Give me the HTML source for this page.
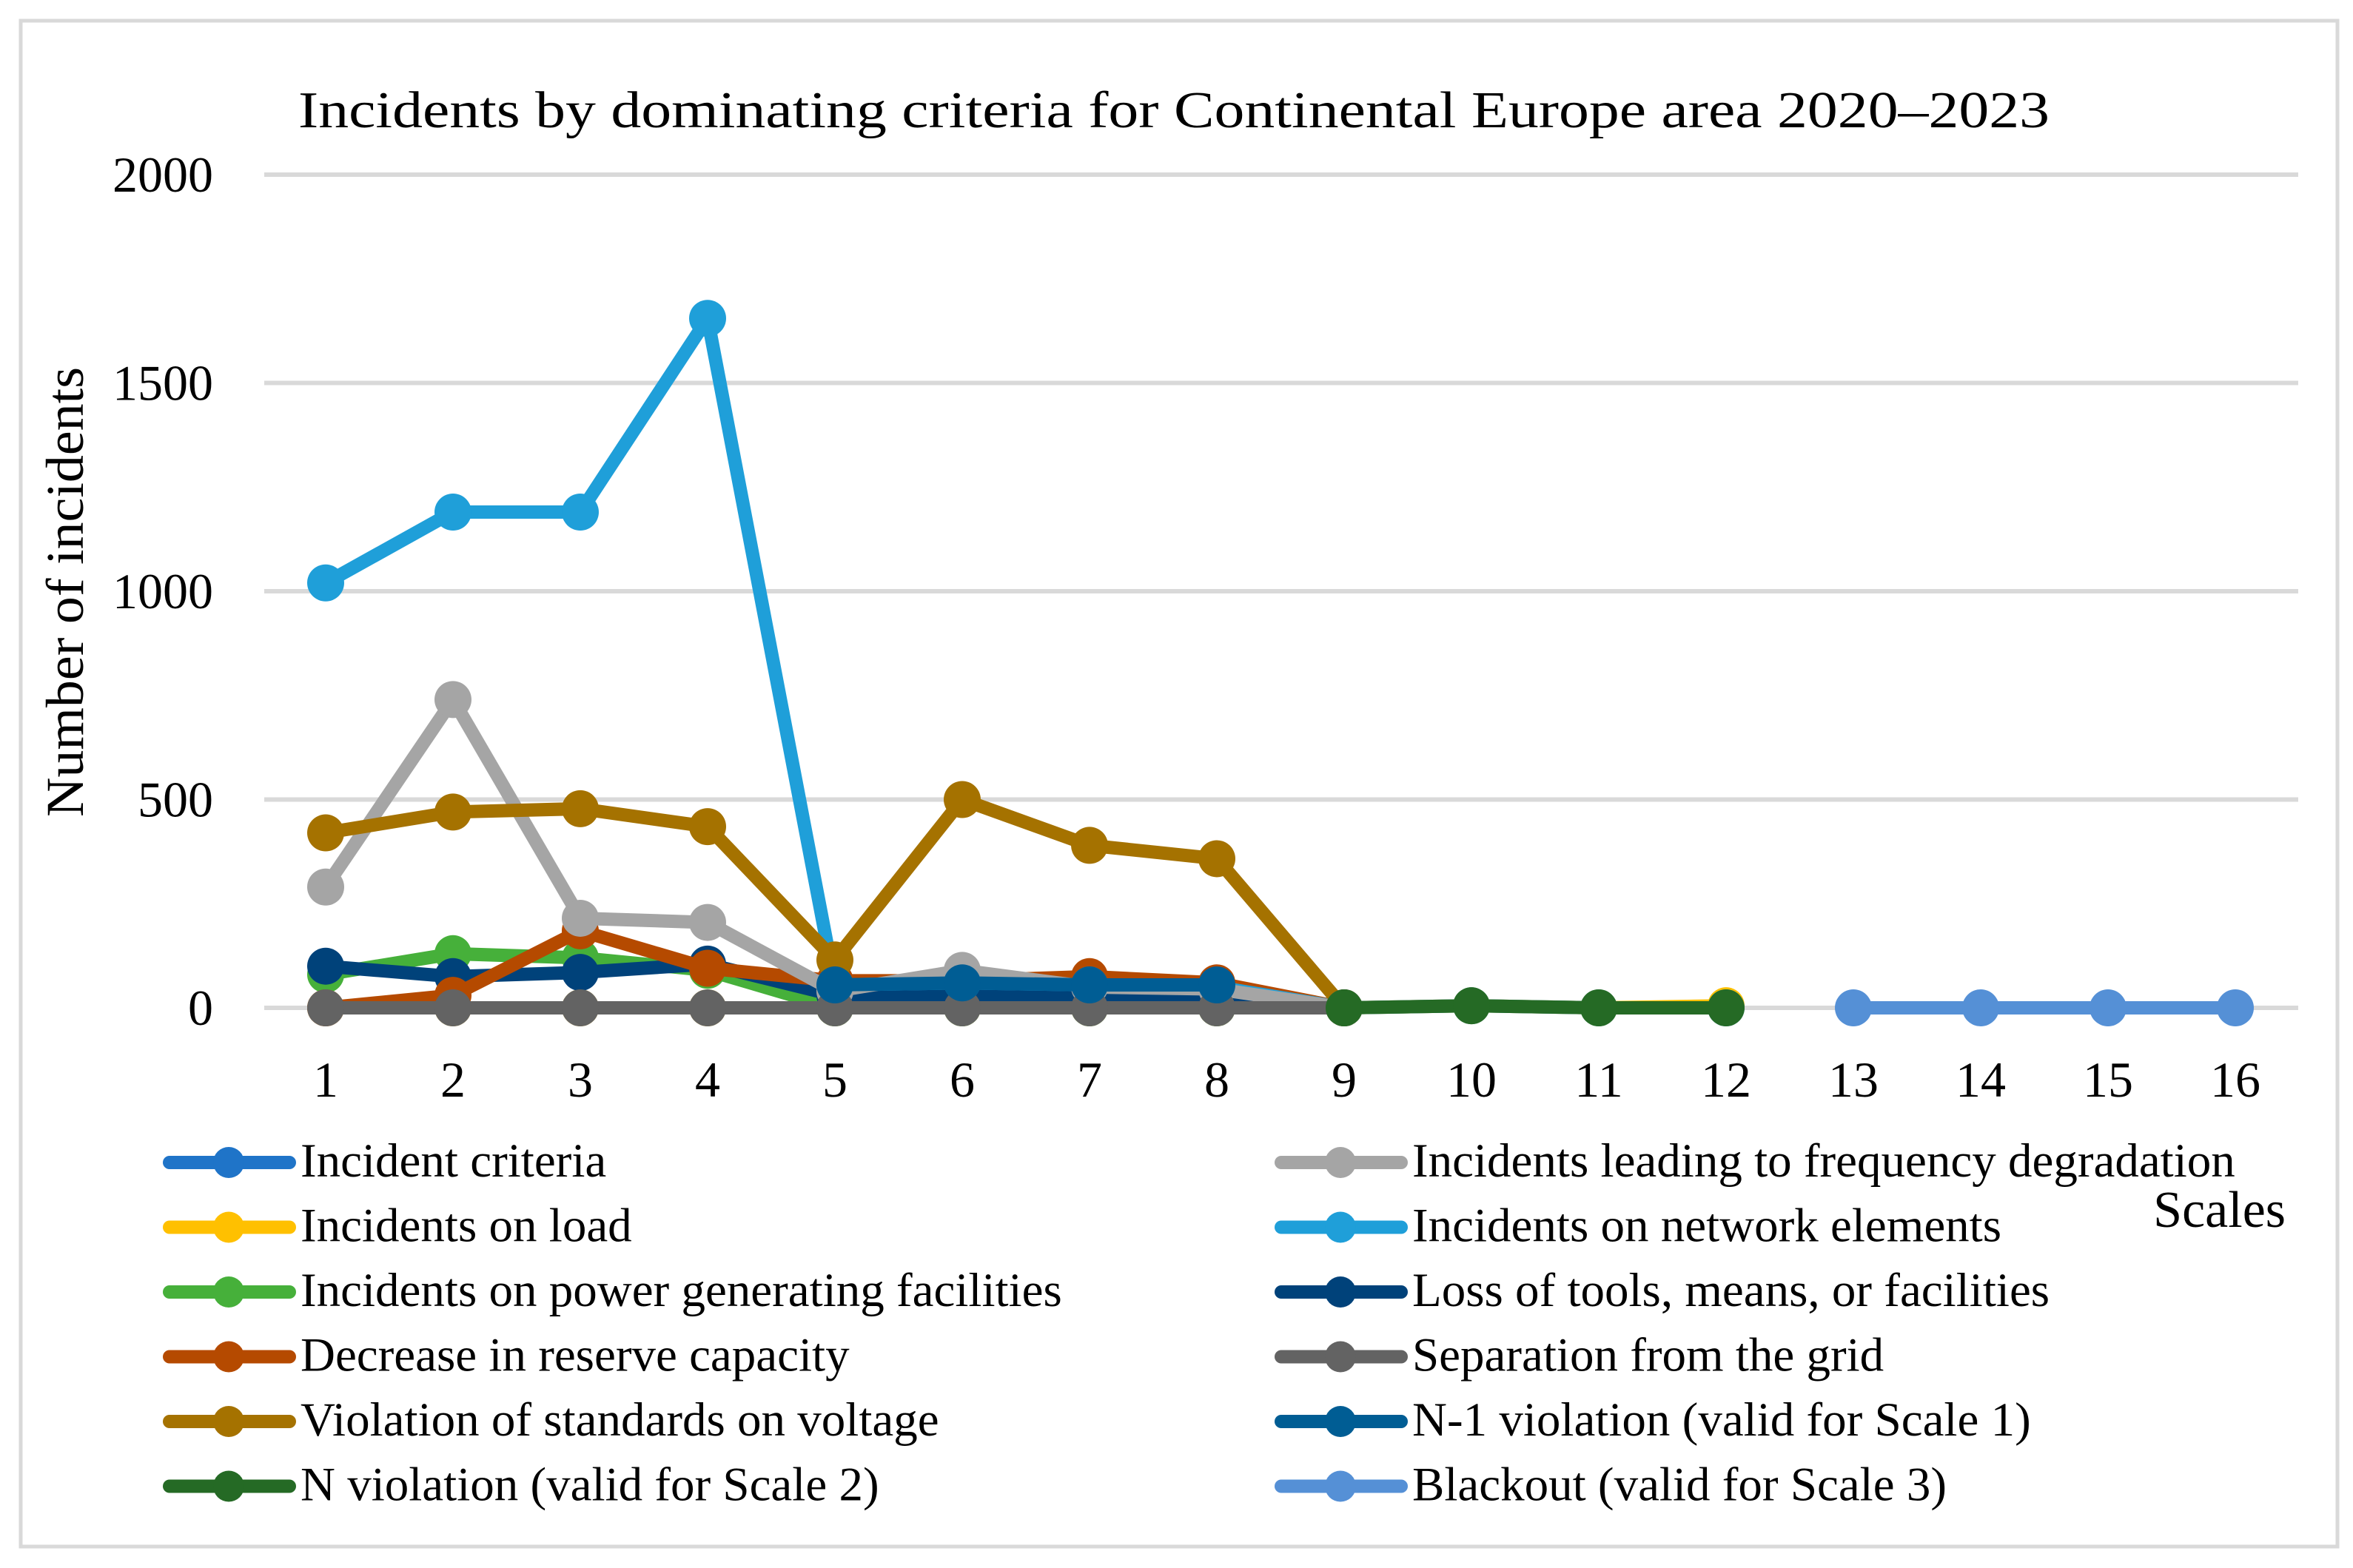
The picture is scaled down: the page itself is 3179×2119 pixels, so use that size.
<!DOCTYPE html>
<html><head><meta charset="utf-8"><style>
html,body{margin:0;padding:0;background:#fff;}
svg{display:block;font-family:"Liberation Serif",serif;}
</style></head><body>
<svg id="chart" width="3179" height="2119" viewBox="0 0 3179 2119" xmlns="http://www.w3.org/2000/svg">
<rect x="28" y="28" width="3130" height="2062" fill="#fff" stroke="#d9d9d9" stroke-width="5"/>
<text x="403" y="172" font-size="70" textLength="2366" lengthAdjust="spacingAndGlyphs">Incidents by dominating criteria for Continental Europe area 2020–2023</text>
<text transform="translate(112,800) rotate(-90)" text-anchor="middle" font-size="72" textLength="608" lengthAdjust="spacingAndGlyphs">Number of incidents</text>
<text x="3088" y="1658" text-anchor="end" font-size="70">Scales</text>
<g id="grid"></g><g id="yt"></g><g id="xt"></g><g id="series"></g><g id="legend"></g>
</svg>
<script>
const categories=[1,2,3,4,5,6,7,8,9,10,11,12,13,14,15,16];
const yTicks=[0,500,1000,1500,2000];
const seriesNames=["Incident criteria","Incidents leading to frequency degradation","Incidents on load","Incidents on network elements","Incidents on power generating facilities","Loss of tools, means, or facilities","Decrease in reserve capacity","Separation from the grid","Violation of standards on voltage","N-1 violation (valid for Scale 1)","N violation (valid for Scale 2)","Blackout (valid for Scale 3)"];
const seriesColors=["#1f74c8","#a5a5a5","#ffc000","#1f9fd9","#46b03a","#00427a","#b54a00","#636363","#a57200","#005d94","#256a25","#5590d6"];
const incidentCriteria=[null,null,null,null,null,null,null,null,null,null,null,null,null,null,null,null];
const freqDegradation=[290,740,215,205,40,90,50,45,0,null,null,null,null,null,null,null];
const onLoad=[0,0,0,0,0,0,0,0,0,5,0,5,null,null,null,null];
const networkElements=[1020,1190,1190,1655,55,60,55,50,0,5,0,0,null,null,null,null];
const powerGenerating=[80,130,120,90,0,0,0,0,0,null,null,null,null,null,null,null];
const lossOfTools=[100,75,85,105,30,30,30,30,0,null,null,null,null,null,null,null];
const reserveCapacity=[0,30,185,95,65,65,75,60,0,null,null,null,null,null,null,null];
const separation=[0,0,0,0,0,0,0,0,0,null,null,null,null,null,null,null];
const voltage=[420,470,478,435,115,500,390,358,0,null,null,null,null,null,null,null];
const nMinus1=[null,null,null,null,55,60,55,55,null,null,null,null,null,null,null,null];
const nViolation=[null,null,null,null,null,null,null,null,0,5,0,0,null,null,null,null];
const blackout=[null,null,null,null,null,null,null,null,null,null,null,null,0,0,0,0];
const seriesData=[incidentCriteria,freqDegradation,onLoad,networkElements,powerGenerating,lossOfTools,reserveCapacity,separation,voltage,nMinus1,nViolation,blackout];
const drawOrder=[0,2,4,5,6,3,1,8,7,9,10,11];
const NS="http://www.w3.org/2000/svg";
const X0=357,X1=3105,Y0=1362,Y1=236;
const xs=c=>440+(c-1)*(3020-440)/15;
const ys=v=>Y0-(v/2000)*(Y0-Y1);
function mk(t,a,p){const e=document.createElementNS(NS,t);for(const k in a)e.setAttribute(k,a[k]);p.appendChild(e);return e;}
const grid=document.getElementById('grid'),yt=document.getElementById('yt'),xt=document.getElementById('xt');
yTicks.forEach(v=>{
 const l=mk('line',{x1:X0,x2:X1,y1:ys(v),y2:ys(v),stroke:'#d9d9d9','stroke-width':6},grid);
 
 
 const t=mk('text',{x:288,y:ys(v)+23,'text-anchor':'end','font-size':68},yt);t.textContent=v;
 
 
});
categories.forEach(c=>{
 const t=mk('text',{x:xs(c),y:1482,'text-anchor':'middle','font-size':68},xt);t.textContent=c;
 
 
});
const sg=document.getElementById('series');
drawOrder.forEach(i=>{
 const d=seriesData[i],col=seriesColors[i];
 const g=mk('g',{},sg);
 
 
 let segs=[],cur=[];
 d.forEach((v,k)=>{if(v===null){if(cur.length)segs.push(cur);cur=[];}else cur.push([xs(categories[k]),ys(v)]);});
 if(cur.length)segs.push(cur);
 segs.forEach(s=>{if(s.length>1){const p=mk('polyline',{points:s.map(q=>q.join(',')).join(' '),fill:'none',stroke:col,'stroke-width':18,'stroke-linejoin':'round','stroke-linecap':'round'},g);
  
  }});
 d.forEach((v,k)=>{if(v!==null){const c=mk('circle',{cx:xs(categories[k]),cy:ys(v),r:25,fill:col},g);
  
  }});
});
const lg=document.getElementById('legend');
seriesNames.forEach((n,i)=>{
 const col=i%2,row=Math.floor(i/2);
 const lx=col?1723:221,ty=1590+row*87.5;
 const g=mk('g',{},lg);
 
 
 mk('line',{x1:lx+8,x2:lx+170,y1:ty-19,y2:ty-19,stroke:seriesColors[i],'stroke-width':18,'stroke-linecap':'round'},g);
 mk('circle',{cx:lx+88,cy:ty-19,r:21,fill:seriesColors[i]},g);
 const t=mk('text',{x:lx+185,y:ty,'font-size':65},g);t.textContent=n;
});
</script>
</body></html>
